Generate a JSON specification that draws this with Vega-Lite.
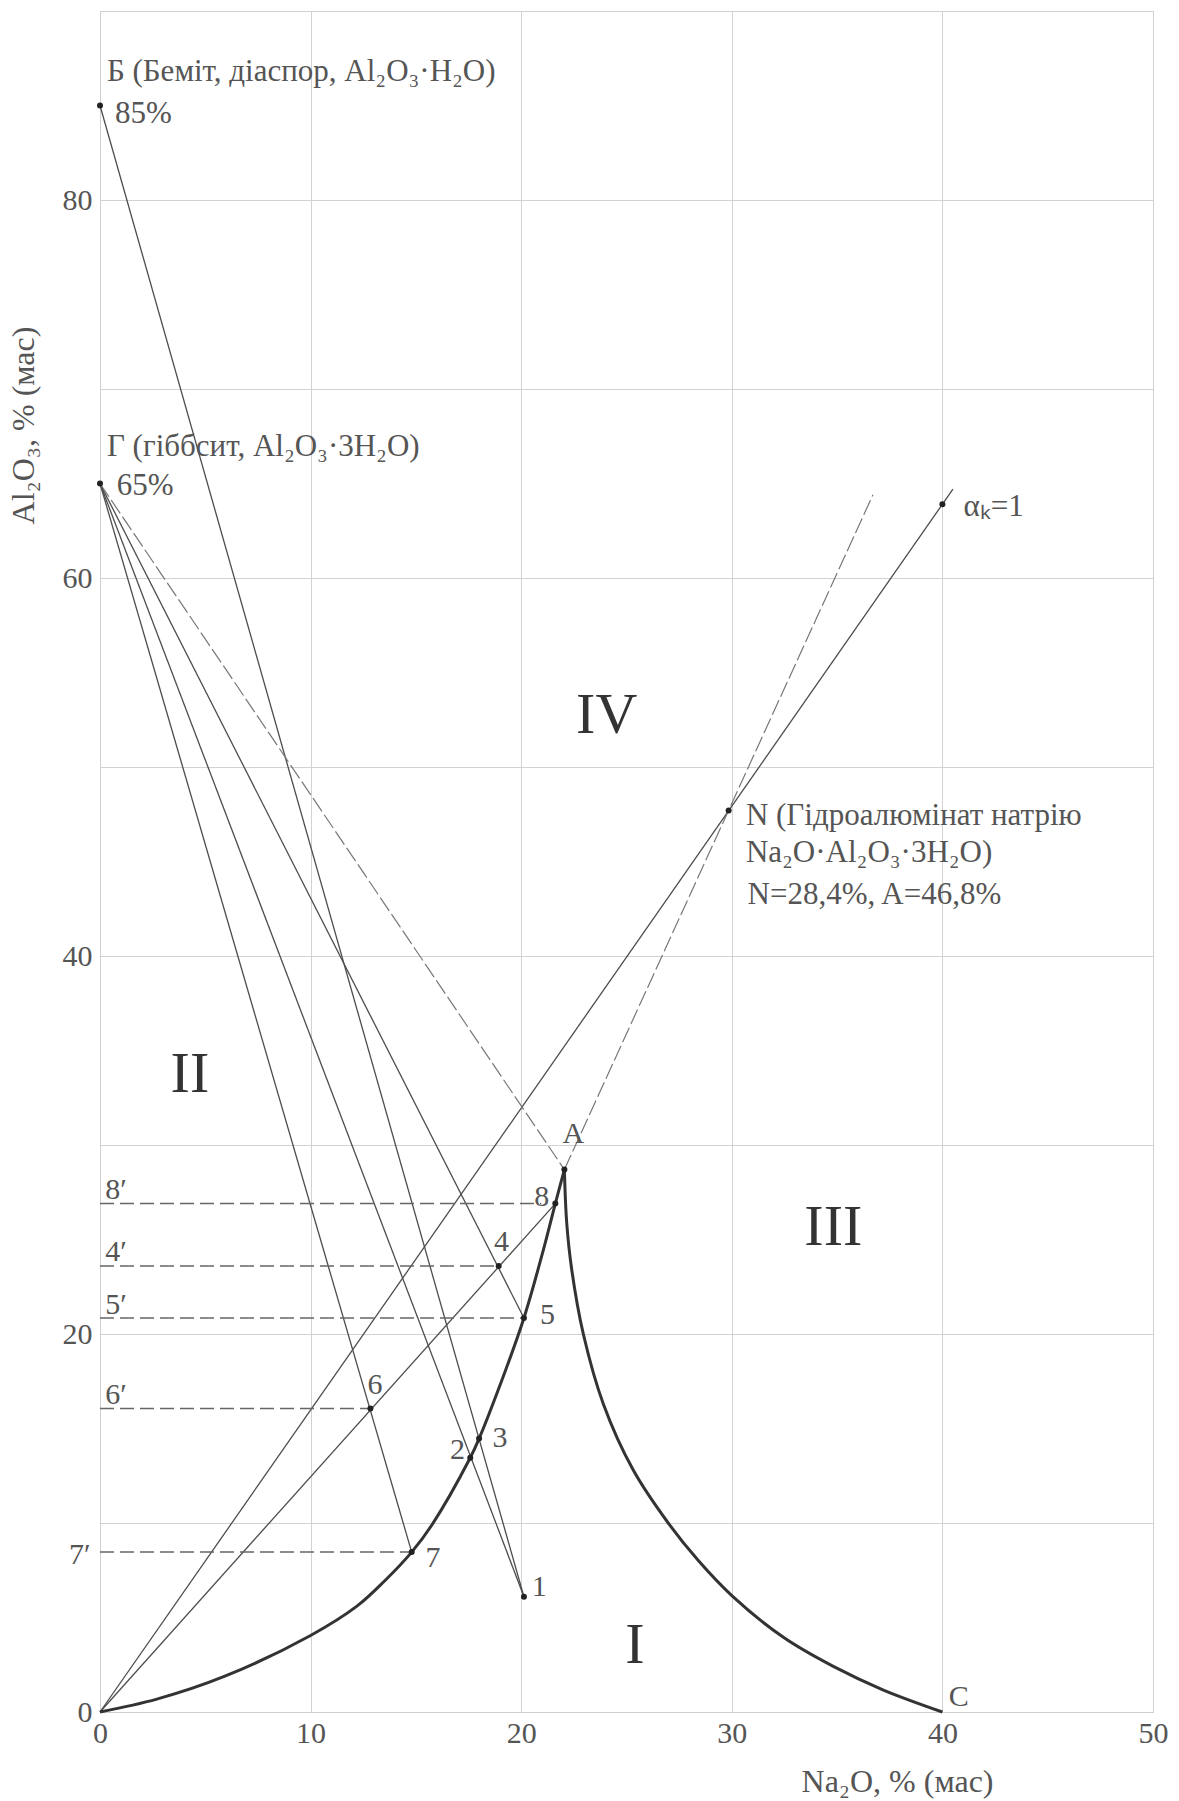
{
  "$schema": "https://vega.github.io/schema/vega-lite/v6.json",
  "width": 1053,
  "height": 1701,
  "autosize": {"type": "none"},
  "padding": {"left": 100, "top": 11, "right": 26, "bottom": 89},
  "background": "white",
  "config": {
    "font": "Liberation Serif",
    "view": {"stroke": "#cfcfcf", "strokeWidth": 1},
    "text": {"font": "Liberation Serif"},
    "axis": {"labelFont": "Liberation Serif", "titleFont": "Liberation Serif"}
  },
  "datasets": {
    "solidLines": [
      {"line": "Б–1", "x": 0, "y": 85}, {"line": "Б–1", "x": 20.13, "y": 6.1},
      {"line": "Г–1", "x": 0, "y": 65}, {"line": "Г–1", "x": 20.13, "y": 6.1},
      {"line": "Г–7", "x": 0, "y": 65}, {"line": "Г–7", "x": 14.8, "y": 8.46},
      {"line": "Г–5", "x": 0, "y": 65}, {"line": "Г–5", "x": 20.13, "y": 20.85},
      {"line": "O–α", "x": 0, "y": 0}, {"line": "O–α", "x": 40.5, "y": 64.7},
      {"line": "O–8", "x": 0, "y": 0}, {"line": "O–8", "x": 21.62, "y": 26.9}
    ],
    "constructionLines": [
      {"line": "Г–A", "x": 0, "y": 65}, {"line": "Г–A", "x": 22.05, "y": 28.7},
      {"line": "A–N", "x": 22.05, "y": 28.7}, {"line": "A–N", "x": 36.7, "y": 64.4}
    ],
    "projections": [
      {"line": "8′", "x": 0, "y": 26.9}, {"line": "8′", "x": 20.95, "y": 26.9},
      {"line": "4′", "x": 0, "y": 23.6}, {"line": "4′", "x": 18.93, "y": 23.6},
      {"line": "5′", "x": 0, "y": 20.85}, {"line": "5′", "x": 20.13, "y": 20.85},
      {"line": "6′", "x": 0, "y": 16.06}, {"line": "6′", "x": 12.84, "y": 16.06},
      {"line": "7′", "x": 0, "y": 8.46}, {"line": "7′", "x": 14.8, "y": 8.46}
    ],
    "curves": [
      {"branch": "left", "x": 0, "y": 0},
      {"branch": "left", "x": 2.7, "y": 0.68},
      {"branch": "left", "x": 5.9, "y": 1.88},
      {"branch": "left", "x": 10.0, "y": 4.05},
      {"branch": "left", "x": 12.2, "y": 5.6},
      {"branch": "left", "x": 13.5, "y": 6.92},
      {"branch": "left", "x": 14.8, "y": 8.46},
      {"branch": "left", "x": 15.75, "y": 9.88},
      {"branch": "left", "x": 17.58, "y": 13.45},
      {"branch": "left", "x": 18.0, "y": 14.46},
      {"branch": "left", "x": 19.0, "y": 17.31},
      {"branch": "left", "x": 20.13, "y": 20.85},
      {"branch": "left", "x": 21.05, "y": 24.44},
      {"branch": "left", "x": 21.62, "y": 26.9},
      {"branch": "left", "x": 22.05, "y": 28.7},
      {"branch": "right", "x": 22.05, "y": 28.7},
      {"branch": "right", "x": 22.16, "y": 25.9},
      {"branch": "right", "x": 22.4, "y": 23.4},
      {"branch": "right", "x": 22.95, "y": 20.0},
      {"branch": "right", "x": 23.9, "y": 16.3},
      {"branch": "right", "x": 25.32, "y": 12.8},
      {"branch": "right", "x": 26.98, "y": 10.0},
      {"branch": "right", "x": 28.42, "y": 8.0},
      {"branch": "right", "x": 30.0, "y": 6.16},
      {"branch": "right", "x": 32.45, "y": 3.95},
      {"branch": "right", "x": 34.82, "y": 2.41},
      {"branch": "right", "x": 37.2, "y": 1.16},
      {"branch": "right", "x": 40.0, "y": 0}
    ],
    "points": [
      {"name": "Б", "x": 0, "y": 85},
      {"name": "Г", "x": 0, "y": 65},
      {"name": "α", "x": 40, "y": 63.9},
      {"name": "N", "x": 29.85, "y": 47.7},
      {"name": "A", "x": 22.05, "y": 28.7},
      {"name": "1", "x": 20.13, "y": 6.1},
      {"name": "2", "x": 17.58, "y": 13.45},
      {"name": "3", "x": 18.0, "y": 14.47},
      {"name": "4", "x": 18.93, "y": 23.6},
      {"name": "5", "x": 20.13, "y": 20.85},
      {"name": "6", "x": 12.84, "y": 16.06},
      {"name": "7", "x": 14.8, "y": 8.46},
      {"name": "8", "x": 21.62, "y": 26.9}
    ],
    "labelsRight": [
      {"t": "1", "x": 20.5, "y": 6.63},
      {"t": "3", "x": 18.64, "y": 14.49},
      {"t": "5", "x": 20.89, "y": 21.0},
      {"t": "7", "x": 15.46, "y": 8.13},
      {"t": "C", "x": 40.3, "y": 0.8}
    ],
    "labelsLeft": [
      {"t": "2", "x": 17.33, "y": 13.86},
      {"t": "8", "x": 21.33, "y": 27.25}
    ],
    "labelsAbove": [
      {"t": "4", "x": 19.07, "y": 24.87},
      {"t": "6", "x": 13.06, "y": 17.29},
      {"t": "A", "x": 22.48, "y": 30.6}
    ],
    "primeLabels": [
      {"t": "8′", "x": 0.25, "y": 27.6},
      {"t": "4′", "x": 0.25, "y": 24.34},
      {"t": "5′", "x": 0.25, "y": 21.52},
      {"t": "6′", "x": 0.25, "y": 16.76}
    ],
    "primeLabelsOutside": [
      {"t": "7′", "x": -0.45, "y": 8.3}
    ],
    "annotations": [
      {"t": "Б (Беміт, діаспор, Al₂O₃·H₂O)", "x": 0.33, "y": 86.3},
      {"t": "85%", "x": 0.71, "y": 84.1},
      {"t": "Г (гіббсит, Al₂O₃·3H₂O)", "x": 0.33, "y": 66.45},
      {"t": "65%", "x": 0.8, "y": 64.4},
      {"t": "αₖ=1", "x": 41.0, "y": 63.3},
      {"t": "N (Гідроалюмінат натрію", "x": 30.67, "y": 46.95},
      {"t": "Na₂O·Al₂O₃·3H₂O)", "x": 30.67, "y": 44.95},
      {"t": "N=28,4%, A=46,8%", "x": 30.75, "y": 42.75}
    ],
    "regions": [
      {"t": "IV", "x": 24.06, "y": 52.7},
      {"t": "III", "x": 34.82, "y": 25.6},
      {"t": "II", "x": 4.27, "y": 33.7},
      {"t": "I", "x": 25.4, "y": 3.47}
    ]
  },
  "encoding": {
    "x": {
      "field": "x", "type": "quantitative",
      "scale": {"domain": [0, 50], "nice": false, "zero": false},
      "axis": {
        "values": [0, 10, 20, 30, 40, 50],
        "grid": true, "gridColor": "#d2d2d2", "gridWidth": 1,
        "ticks": false, "domainColor": "#cfcfcf",
        "labelFont": "Liberation Serif",
        "labelFontSize": 30, "labelColor": "#555555", "labelPadding": 6,
        "labelFlush": false, "labelOverlap": false,
        "title": "Na₂O, % (мас)", "titleFont": "Liberation Serif", "titleFontSize": 32, "titleFontWeight": "normal",
        "titleColor": "#555555", "titleX": 797, "titleY": 69,
        "titleAlign": "center", "titleBaseline": "middle"
      }
    },
    "y": {
      "field": "y", "type": "quantitative",
      "scale": {"domain": [0, 90], "nice": false, "zero": false},
      "axis": {
        "values": [0, 10, 20, 30, 40, 50, 60, 70, 80, 90],
        "labelExpr": "datum.value % 20 === 0 && datum.value < 90 ? datum.label : ''",
        "grid": true, "gridColor": "#d2d2d2", "gridWidth": 1,
        "ticks": false, "domainColor": "#cfcfcf",
        "labelFont": "Liberation Serif",
        "labelFontSize": 30, "labelColor": "#555555", "labelPadding": 8,
        "labelFlush": false, "labelOverlap": false,
        "title": "Al₂O₃, % (мас)", "titleFont": "Liberation Serif", "titleFontSize": 32, "titleFontWeight": "normal",
        "titleColor": "#555555", "titleX": -77, "titleY": 414, "titleAngle": -90,
        "titleAlign": "center", "titleBaseline": "middle"
      }
    }
  },
  "layer": [
    {
      "data": {"name": "solidLines"},
      "mark": {"type": "line", "color": "#4d4d4d", "strokeWidth": 1.3, "clip": false},
      "encoding": {"detail": {"field": "line"}}
    },
    {
      "data": {"name": "constructionLines"},
      "mark": {"type": "line", "color": "#777777", "strokeWidth": 1.2, "strokeDash": [16, 4], "clip": false},
      "encoding": {"detail": {"field": "line"}}
    },
    {
      "data": {"name": "projections"},
      "mark": {"type": "line", "color": "#666666", "strokeWidth": 1.5, "strokeDash": [14, 6]},
      "encoding": {"detail": {"field": "line"}}
    },
    {
      "data": {"name": "curves"},
      "mark": {"type": "line", "color": "#333333", "strokeWidth": 3, "interpolate": "catmull-rom"},
      "encoding": {"detail": {"field": "branch"}}
    },
    {
      "data": {"name": "points"},
      "mark": {"type": "point", "filled": true, "shape": "circle", "size": 36, "color": "#222222", "opacity": 1, "clip": false}
    },
    {
      "data": {"name": "labelsRight"},
      "mark": {"type": "text", "font": "Liberation Serif", "fontSize": 30, "color": "#555555", "align": "left", "baseline": "middle"},
      "encoding": {"text": {"field": "t"}}
    },
    {
      "data": {"name": "labelsLeft"},
      "mark": {"type": "text", "font": "Liberation Serif", "fontSize": 30, "color": "#555555", "align": "right", "baseline": "middle"},
      "encoding": {"text": {"field": "t"}}
    },
    {
      "data": {"name": "labelsAbove"},
      "mark": {"type": "text", "font": "Liberation Serif", "fontSize": 30, "color": "#555555", "align": "center", "baseline": "middle"},
      "encoding": {"text": {"field": "t"}}
    },
    {
      "data": {"name": "primeLabels"},
      "mark": {"type": "text", "font": "Liberation Serif", "fontSize": 30, "color": "#555555", "align": "left", "baseline": "middle"},
      "encoding": {"text": {"field": "t"}}
    },
    {
      "data": {"name": "primeLabelsOutside"},
      "mark": {"type": "text", "font": "Liberation Serif", "fontSize": 30, "color": "#555555", "align": "right", "baseline": "middle", "clip": false},
      "encoding": {"text": {"field": "t"}}
    },
    {
      "data": {"name": "annotations"},
      "mark": {"type": "text", "font": "Liberation Serif", "fontSize": 31, "color": "#555555", "align": "left", "baseline": "alphabetic", "clip": false},
      "encoding": {"text": {"field": "t"}}
    },
    {
      "data": {"name": "regions"},
      "mark": {"type": "text", "font": "Liberation Serif", "fontSize": 58, "color": "#333333", "align": "center", "baseline": "middle"},
      "encoding": {"text": {"field": "t"}}
    }
  ]
}
